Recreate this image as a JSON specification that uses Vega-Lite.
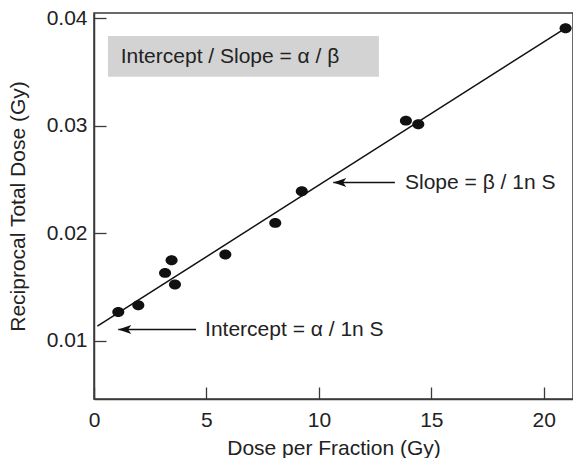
{
  "$schema": "https://vega.github.io/schema/vega-lite/v6.json",
  "autosize": "none",
  "padding": {"left": 94, "top": 13, "right": 0, "bottom": 59},
  "width": 479,
  "height": 386,
  "background": "white",
  "config": {
    "font": "Liberation Sans",
    "view": {"stroke": "#3a3a3a", "strokeWidth": 1.5},
    "axis": {
      "domainColor": "#3a3a3a",
      "domainWidth": 1.5,
      "tickColor": "#3a3a3a",
      "tickWidth": 1.3,
      "tickSize": -12,
      "grid": false,
      "labelFlush": false,
      "labelFont": "Liberation Sans",
      "labelFontSize": 21,
      "labelColor": "#222",
      "titleFont": "Liberation Sans",
      "titleFontSize": 21,
      "titleFontWeight": "normal",
      "titleColor": "#222"
    }
  },
  "layer": [
    {
      "data": {"values": [{"x1": 0.62, "x2": 12.67, "y1": 0.03456, "y2": 0.03837}]},
      "mark": {"type": "rect", "color": "#d3d3d3"},
      "encoding": {
        "x": {"field": "x1", "type": "quantitative", "scale": {"domain": [0, 21.3], "nice": false}, "axis": {"values": [0, 5, 10, 15, 20], "title": "Dose per Fraction (Gy)", "labelPadding": 22, "titlePadding": 7}},
        "x2": {"field": "x2"},
        "y": {"field": "y1", "type": "quantitative", "scale": {"domain": [0.0046, 0.0405], "nice": false, "zero": false}, "axis": {"values": [0.01, 0.02, 0.03, 0.04], "format": ".2f", "title": "Reciprocal Total Dose (Gy)", "labelPadding": 19, "titlePadding": 18}},
        "y2": {"field": "y2"}
      }
    },
    {
      "data": {"values": [{"x": 0.15, "y": 0.01137}, {"x": 20.97, "y": 0.0391}]},
      "mark": {"type": "line", "color": "#111", "strokeWidth": 1.5},
      "encoding": {
        "x": {"field": "x", "type": "quantitative"},
        "y": {"field": "y", "type": "quantitative"}
      }
    },
    {
      "data": {"values": [
        {"dose": 1.08, "recip": 0.0127},
        {"dose": 1.97, "recip": 0.01332},
        {"dose": 3.16, "recip": 0.01633},
        {"dose": 3.45, "recip": 0.01751},
        {"dose": 3.6, "recip": 0.01525},
        {"dose": 5.84, "recip": 0.01804},
        {"dose": 8.06, "recip": 0.02098},
        {"dose": 9.24, "recip": 0.02393},
        {"dose": 13.87, "recip": 0.03049},
        {"dose": 14.42, "recip": 0.03016},
        {"dose": 20.97, "recip": 0.03909}
      ]},
      "mark": {"type": "point", "shape": "M-1.15,0 A1.15,0.95 0 1,0 1.15,0 A1.15,0.95 0 1,0 -1.15,0 Z", "filled": true, "size": 110, "color": "#111", "opacity": 1},
      "encoding": {
        "x": {"field": "dose", "type": "quantitative"},
        "y": {"field": "recip", "type": "quantitative"}
      }
    },
    {
      "data": {"values": [{"tip": 10.64, "tail": 13.38, "y": 0.02473}, {"tip": 1.08, "tail": 4.54, "y": 0.01106}]},
      "mark": {"type": "rule", "color": "#111", "strokeWidth": 1.5},
      "encoding": {
        "x": {"field": "tip", "type": "quantitative"},
        "x2": {"field": "tail"},
        "y": {"field": "y", "type": "quantitative"}
      }
    },
    {
      "data": {"values": [{"tip": 10.64, "y": 0.02473}, {"tip": 1.08, "y": 0.01106}]},
      "mark": {"type": "point", "shape": "M0,0 L2,-0.7 L1.5,0 L2,0.7 Z", "filled": true, "size": 170, "color": "#111", "opacity": 1},
      "encoding": {
        "x": {"field": "tip", "type": "quantitative"},
        "y": {"field": "y", "type": "quantitative"}
      }
    },
    {
      "data": {"values": [
        {"x": 13.83, "y": 0.02473, "label": "Slope = β / 1n S"},
        {"x": 4.94, "y": 0.01106, "label": "Intercept = α / 1n S"},
        {"x": 1.19, "y": 0.03642, "label": "Intercept / Slope = α / β"}
      ]},
      "mark": {"type": "text", "align": "left", "baseline": "middle", "font": "Liberation Sans", "fontSize": 21, "color": "#222"},
      "encoding": {
        "x": {"field": "x", "type": "quantitative"},
        "y": {"field": "y", "type": "quantitative"},
        "text": {"field": "label"}
      }
    }
  ]
}
